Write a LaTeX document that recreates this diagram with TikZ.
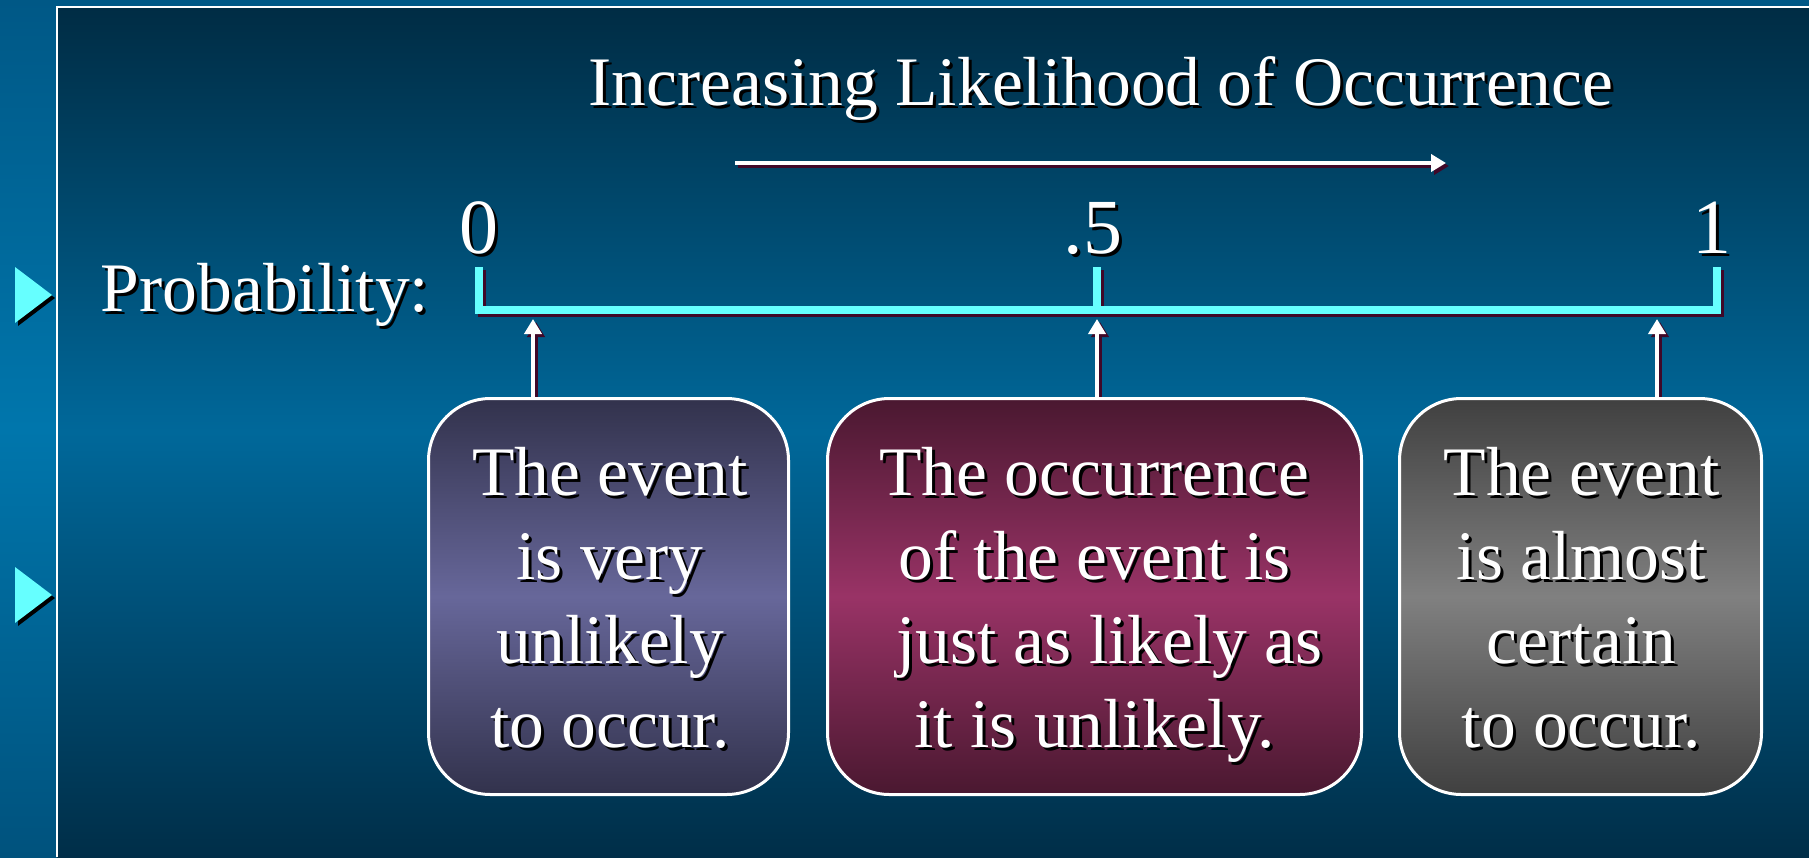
\documentclass[tikz,border=0pt]{standalone}
\usepackage{fontspec}
\setmainfont{Liberation Serif}
\usetikzlibrary{arrows.meta,calc}

\definecolor{outtop}{RGB}{0,88,134}
\definecolor{outmid}{RGB}{0,118,172}
\definecolor{outbot}{RGB}{0,82,125}
\definecolor{intop}{RGB}{0,44,68}
\definecolor{inmid}{RGB}{0,104,154}
\definecolor{inbot}{RGB}{0,46,72}
\definecolor{cardAdark}{RGB}{50,50,76}
\definecolor{cardAlight}{RGB}{103,103,154}
\definecolor{cardBdark}{RGB}{74,24,48}
\definecolor{cardBlight}{RGB}{153,51,102}
\definecolor{cardCdark}{RGB}{64,64,64}
\definecolor{cardClight}{RGB}{128,128,128}
\definecolor{shadowred}{RGB}{64,8,40}
\definecolor{markcyan}{RGB}{102,255,255}

\pgfdeclarelayer{bg}
\pgfdeclarelayer{mid}
\pgfsetlayers{bg,mid,main}

% white text with a black drop shadow: #1 style, #2 name, #3 position, #4 text
\newcommand\castlabel[4]{%
  \node[#1, text=black, xshift=3pt, yshift=-3pt] at #3 {#4};
  \node[#1] (#2) at #3 {#4};}

\begin{document}
\begin{tikzpicture}[x=1pt,y=-1pt,
  lbl/.style={text=white, inner sep=0pt, font=\fontsize{69.5}{84}\selectfont},
  numlbl/.style={lbl, font=\fontsize{78}{90}\selectfont, anchor=base},
  boxtxt/.style={lbl, align=center, anchor=north},
  card/.style={draw=white, line width=3pt, rounded corners=62pt, inner sep=0pt,
    minimum height=396pt},
  scaleline/.style={line width=8pt, line join=miter, line cap=butt},
  pointer/.style={line width=4pt, -{Triangle[width=17pt,length=15pt]}},
  dropped/.style={transform canvas={xshift=3pt,yshift=-3pt}}]
\useasboundingbox (0,0) rectangle (1809,857);

% backdrop and inner panel
\begin{pgfonlayer}{bg}
  \shade[top color=outtop, bottom color=outbot, middle color=outmid] (0,0) rectangle (1809,857);
  \shade[top color=intop, bottom color=inbot, middle color=inmid] (57,7) rectangle (1809,857);
  \draw[white, line width=1.5pt] (57,857) -- (57,7) -- (1809,7);
  % bullet marks
  \foreach \ty in {295,595} {
    \fill[black, shift={(3,3)}] (15,\ty-28) -- (15,\ty+28) -- (52,\ty) -- cycle;
    \fill[markcyan] (15,\ty-28) -- (15,\ty+28) -- (52,\ty) -- cycle;
  }
\end{pgfonlayer}

% cards
\node[card, minimum width=360pt, top color=cardAdark, bottom color=cardAdark,
  middle color=cardAlight] (b1) at (608.5,596.5) {};
\node[card, minimum width=534pt, top color=cardBdark, bottom color=cardBdark,
  middle color=cardBlight] (b2) at (1094.5,596.5) {};
\node[card, minimum width=362pt, top color=cardCdark, bottom color=cardCdark,
  middle color=cardClight] (b3) at (1580.5,596.5) {};

\castlabel{boxtxt}{t1}{($(b1.north)+(1.5,50.5)$)}{The event\\is very\\unlikely\\to occur.}
\castlabel{boxtxt}{t2}{($(b2.north)+(0,50.5)$)}{The occurrence\\of the event is\\\hspace*{30pt}just as likely as\\it is unlikely.}
\castlabel{boxtxt}{t3}{($(b3.north)+(1,50.5)$)}{The event\\is almost\\certain\\to occur.}

% probability scale
\coordinate (s0) at (479,310);
\coordinate (s5) at (1097,310);
\coordinate (s1) at (1717,310);
\begin{pgfonlayer}{mid}
  \draw[scaleline, shadowred, dropped] (s0) ++(0,-43) -- (s0) -- (s1) -- ++(0,-43);
  \draw[scaleline, shadowred, dropped] (s5) -- ++(0,-43);
  \draw[scaleline, markcyan] (s0) ++(0,-43) -- (s0) -- (s1) -- ++(0,-43);
  \draw[scaleline, markcyan] (s5) -- ++(0,-43);

  % pointers from the cards up to the scale
  \coordinate (u1) at (533,319);
  \coordinate (u2) at (1097,319);
  \coordinate (u3) at (1657,319);
  \foreach \b/\u in {b1/u1,b2/u2,b3/u3} {
    \draw[pointer, shadowred, dropped] (\b.north -| \u) -- (\u);
    \draw[pointer, white] (\b.north -| \u) -- (\u);
  }

  % direction of increasing likelihood
  \coordinate (L0) at (735,163);
  \coordinate (L1) at (1446,163);
  \draw[pointer, shadowred, dropped] (L0) -- (L1);
  \draw[pointer, white] (L0) -- (L1);
\end{pgfonlayer}

\castlabel{numlbl}{n0}{(s0 |- 0,253)}{0}
\castlabel{numlbl}{n5}{(1093,253)}{.5}
\castlabel{numlbl}{n1}{(1712,253)}{1}

\castlabel{lbl, anchor=base}{title}{(1101,105)}{Increasing Likelihood of Occurrence}
\castlabel{lbl, anchor=base}{prob}{(265,311)}{Probability:}
\end{tikzpicture}
\end{document}
